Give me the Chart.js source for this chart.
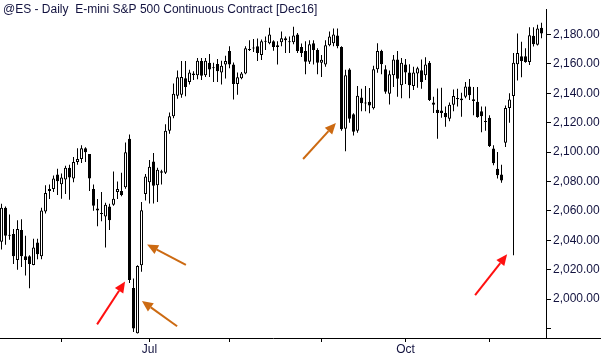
<!DOCTYPE html>
<html>
<head>
<meta charset="utf-8">
<script src="https://cdn.jsdelivr.net/npm/chart.js@4.4.0/dist/chart.umd.min.js"></script>
<style>
  html, body { margin: 0; padding: 0; background: #fff; }
  #wrap { width: 601px; height: 355px; }
</style>
</head>
<body>
<div id="wrap"><canvas id="chart" width="601" height="355"></canvas></div>
<script>
// trading days shown on the chart
const mayDays = [10, 11, 12, 13, 16, 17, 18, 19, 20, 23, 24, 25, 26, 27, 31];
const junDays = [1, 2, 3, 6, 7, 8, 9, 10, 13, 14, 15, 16, 17, 20, 21, 22, 23, 24, 27, 28, 29, 30];
const julDays = [1, 5, 6, 7, 8, 11, 12, 13, 14, 15, 18, 19, 20, 21, 22, 25, 26, 27, 28, 29];
const augDays = [1, 2, 3, 4, 5, 8, 9, 10, 11, 12, 15, 16, 17, 18, 19, 22, 23, 24, 25, 26, 29, 30, 31];
const sepDays = [1, 2, 6, 7, 8, 9, 12, 13, 14, 15, 16, 19, 20, 21, 22, 23, 26, 27, 28, 29, 30];
const octDays = [3, 4, 5, 6, 7, 10, 11, 12, 13, 14, 17, 18, 19, 20, 21, 24, 25, 26, 27, 28, 31];
const novDays = [1, 2, 3, 4, 7, 8, 9, 10, 11, 14, 15, 16, 17, 18];

// tick marks on the time axis
const tickDates = ['2016-06-01', '2016-07-01', '2016-08-01', '2016-09-01', '2016-10-03', '2016-11-01'];
const tickLabels = ['', 'Jul', '', '', 'Oct', ''];

// OHLC values
const opens = [
  2039.0, 2062.2, 2043.7, 2044.3, 2026.5, 2047.0, 2029.1, 2029.1, 2023.2, 2038.4,
  2029.1, 2059.6, 2074.8, 2074.8, 2084.7, 2078.1, 2081.4, 2089.3, 2082.1, 2093.3,
  2095.3, 2102.6, 2098.6, 2074.8, 2061.6, 2058.6, 2056.2, 2062.9, 2064.2, 2072.8,
  2073.5, 2076.1, 2109.0, 2007.5, 1976.8, 2023.0, 2071.5, 2079.4, 2093.5, 2077.4,
  2087.0, 2086.0, 2114.5, 2124.4, 2138.3, 2139.0, 2150.2, 2147.6, 2153.5, 2152.2,
  2162.0, 2152.2, 2160.8, 2157.5, 2160.0, 2154.2, 2159.5, 2168.8, 2159.5, 2146.3,
  2150.2, 2153.5, 2169.4, 2171.0, 2172.0, 2166.0, 2175.0, 2174.0, 2175.4, 2171.4,
  2174.7, 2176.0, 2175.4, 2174.7, 2180.0, 2171.4, 2168.7, 2161.5, 2174.0, 2169.4,
  2160.8, 2159.5, 2172.7, 2174.0, 2179.3, 2171.4, 2115.8, 2156.2, 2125.7, 2114.5,
  2137.2, 2133.4, 2134.3, 2129.8, 2156.4, 2168.7, 2156.4, 2139.6, 2152.2, 2163.0,
  2145.4, 2159.5, 2154.2, 2144.9, 2153.5, 2155.7, 2152.2, 2160.8, 2133.7, 2128.8,
  2128.2, 2126.6, 2122.6, 2132.2, 2136.0, 2136.5, 2137.6, 2144.6, 2136.0, 2134.3,
  2127.7, 2121.1, 2123.3, 2102.4, 2088.7, 2084.7, 2106.3, 2129.9, 2138.1, 2159.7,
  2165.2, 2165.2, 2161.2, 2179.1, 2173.0, 2184.5
];
const highs = [
  2064.9, 2063.0, 2057.6, 2047.6, 2053.6, 2054.3, 2043.0, 2029.8, 2041.0, 2041.0,
  2062.2, 2077.4, 2078.0, 2084.0, 2088.7, 2085.4, 2090.7, 2091.3, 2096.6, 2102.6,
  2104.6, 2103.2, 2098.6, 2078.0, 2068.0, 2072.8, 2065.5, 2064.9, 2086.7, 2080.0,
  2086.0, 2106.5, 2112.0, 2014.0, 2023.0, 2066.0, 2085.0, 2094.6, 2099.3, 2089.3,
  2088.0, 2119.0, 2127.0, 2146.7, 2155.5, 2162.0, 2162.0, 2156.0, 2155.0, 2164.0,
  2164.0, 2164.0, 2166.8, 2160.8, 2163.4, 2162.1, 2165.5, 2172.0, 2161.0, 2154.2,
  2154.5, 2172.0, 2176.0, 2177.0, 2177.3, 2176.6, 2178.7, 2184.6, 2176.0, 2175.4,
  2182.0, 2178.7, 2178.7, 2185.3, 2181.0, 2173.8, 2175.4, 2176.0, 2176.0, 2170.7,
  2166.0, 2176.0, 2182.0, 2184.0, 2184.0, 2172.0, 2156.0, 2157.0, 2126.4, 2145.0,
  2143.0, 2145.0, 2143.6, 2158.8, 2174.0, 2169.6, 2159.0, 2155.5, 2166.0, 2168.7,
  2164.0, 2163.4, 2159.7, 2158.0, 2158.0, 2163.0, 2164.5, 2162.0, 2137.6, 2143.2,
  2143.8, 2131.0, 2133.8, 2142.5, 2143.0, 2140.3, 2147.6, 2149.7, 2144.3, 2144.3,
  2131.0, 2131.0, 2125.0, 2104.6, 2100.0, 2091.3, 2131.7, 2140.0, 2167.4, 2180.7,
  2175.1, 2170.7, 2185.0, 2185.0, 2186.6, 2188.0
];
const lows = [
  2033.7, 2037.0, 2040.4, 2023.8, 2019.9, 2021.8, 2016.0, 2007.3, 2023.0, 2027.0,
  2027.0, 2058.2, 2068.0, 2072.8, 2070.8, 2068.2, 2071.5, 2067.5, 2079.4, 2091.3,
  2092.6, 2093.3, 2073.5, 2060.0, 2049.6, 2053.0, 2035.0, 2047.0, 2063.5, 2068.0,
  2070.0, 2075.0, 2011.0, 1977.5, 1976.5, 2018.5, 2067.0, 2065.0, 2065.0, 2066.0,
  2078.0, 2085.0, 2112.5, 2123.0, 2136.3, 2137.0, 2138.0, 2146.0, 2149.0, 2149.6,
  2149.0, 2151.0, 2151.0, 2147.6, 2147.6, 2146.0, 2150.0, 2157.0, 2135.7, 2139.0,
  2149.6, 2153.0, 2168.7, 2168.0, 2162.0, 2162.7, 2169.4, 2173.4, 2169.0, 2159.5,
  2172.0, 2167.4, 2167.4, 2173.4, 2167.4, 2164.7, 2152.9, 2160.0, 2159.5, 2152.9,
  2151.0, 2158.0, 2172.0, 2172.0, 2170.7, 2114.5, 2100.5, 2120.0, 2111.2, 2113.2,
  2127.7, 2127.7, 2126.4, 2129.0, 2154.0, 2153.0, 2139.6, 2132.4, 2144.3, 2137.6,
  2136.6, 2146.3, 2136.6, 2142.3, 2143.8, 2143.0, 2149.0, 2134.8, 2126.6, 2109.0,
  2123.3, 2117.3, 2121.0, 2127.7, 2131.0, 2124.0, 2136.6, 2135.5, 2125.0, 2123.3,
  2113.4, 2114.5, 2103.4, 2091.0, 2082.0, 2079.2, 2103.4, 2120.0, 2029.8, 2148.7,
  2150.9, 2160.8, 2159.2, 2171.9, 2172.5, 2177.4
];
const closes = [
  2062.2, 2043.0, 2043.0, 2029.1, 2047.6, 2029.1, 2026.5, 2023.8, 2035.1, 2030.4,
  2060.2, 2072.1, 2073.5, 2082.1, 2080.1, 2082.7, 2089.3, 2082.7, 2093.3, 2095.3,
  2102.6, 2099.9, 2082.1, 2063.5, 2060.2, 2057.9, 2064.2, 2053.6, 2068.2, 2074.8,
  2070.8, 2099.9, 2013.0, 1980.0, 2022.5, 2060.4, 2083.4, 2090.0, 2077.0, 2088.0,
  2086.0, 2114.5, 2124.4, 2139.6, 2150.9, 2151.0, 2144.3, 2154.2, 2152.5, 2162.1,
  2152.0, 2162.1, 2156.2, 2157.0, 2154.9, 2158.8, 2162.0, 2159.5, 2146.3, 2150.9,
  2153.5, 2170.7, 2169.8, 2170.5, 2167.4, 2175.4, 2175.4, 2180.0, 2171.4, 2172.7,
  2177.4, 2177.4, 2174.7, 2179.3, 2168.7, 2167.4, 2161.5, 2173.4, 2169.4, 2160.8,
  2162.8, 2172.7, 2178.7, 2180.0, 2172.0, 2115.6, 2152.2, 2122.6, 2113.8, 2138.3,
  2133.2, 2133.0, 2131.7, 2156.4, 2168.7, 2159.7, 2141.0, 2153.0, 2163.0, 2149.8,
  2160.8, 2154.2, 2145.4, 2154.2, 2157.0, 2147.6, 2159.5, 2135.5, 2132.2, 2126.6,
  2126.6, 2123.7, 2132.2, 2138.1, 2136.8, 2135.2, 2144.6, 2138.7, 2134.8, 2123.9,
  2124.4, 2120.5, 2104.1, 2092.4, 2084.2, 2080.7, 2129.9, 2135.7, 2160.8, 2167.4,
  2161.9, 2161.2, 2179.5, 2173.4, 2184.0, 2180.7
];

// arrows drawn on the chart: [day index, price] of tail and head
const arrows = [
  { from: [23.9, 1982.8], to: [30.9, 2011.9], color: '#ff1010' },
  { from: [46.1, 2023.2], to: [36.4, 2037.1], color: '#cc6a12' },
  { from: [43.9, 1981.5], to: [35.1, 1998.7], color: '#cc6a12' },
  { from: [75.4, 2095.3], to: [83.6, 2119.8], color: '#cc6a12' },
  { from: [118.4, 2002.6], to: [126.4, 2030.4], color: '#ff1010' }
];

const title = '@ES - Daily  E-mini S&P 500 Continuous Contract [Dec16]';
const textColor = '#12123f';

function pad(n) { return (n < 10 ? '0' : '') + n; }
const categories = [];
[[5, mayDays], [6, junDays], [7, julDays], [8, augDays], [9, sepDays], [10, octDays], [11, novDays]].forEach(function (m) {
  m[1].forEach(function (d) { categories.push('2016-' + pad(m[0]) + '-' + pad(d)); });
});
const tickIdx = tickDates.map(function (d) { return categories.indexOf(d); });

const bodies = opens.map(function (o, k) { return { x: k, y: [o, closes[k]] }; });
const wicks = lows.map(function (l, k) { return { x: k, y: [l, highs[k]] }; });
const bodyFill = opens.map(function (o, k) { return closes[k] >= o ? '#ffffff' : '#000000'; });

// title, arrows and the axis line below the price scale
const extras = {
  id: 'extras',
  afterDraw: function (chart) {
    const ctx = chart.ctx;
    const xs = chart.scales.x, ys = chart.scales.y;
    const area = chart.chartArea;
    ctx.save();
    ctx.strokeStyle = '#000';
    ctx.lineWidth = 1;
    ctx.beginPath();
    ctx.moveTo(area.right, Math.round(area.bottom) + 0.5);
    ctx.lineTo(chart.width, Math.round(area.bottom) + 0.5);
    ctx.stroke();

    ctx.fillStyle = textColor;
    ctx.font = '12px "Liberation Sans", Arial, sans-serif';
    ctx.textBaseline = 'alphabetic';
    ctx.fillText(title, 3, 13);

    arrows.forEach(function (a) {
      const x1 = xs.getPixelForValue(a.from[0]), y1 = ys.getPixelForValue(a.from[1]);
      const x2 = xs.getPixelForValue(a.to[0]), y2 = ys.getPixelForValue(a.to[1]);
      const ang = Math.atan2(y2 - y1, x2 - x1);
      const hl = 11, hw = 5;
      const bx = x2 - hl * Math.cos(ang), by = y2 - hl * Math.sin(ang);
      ctx.strokeStyle = a.color;
      ctx.fillStyle = a.color;
      ctx.lineWidth = 2;
      ctx.beginPath();
      ctx.moveTo(x1, y1);
      ctx.lineTo(bx, by);
      ctx.stroke();
      ctx.beginPath();
      ctx.moveTo(x2, y2);
      ctx.lineTo(bx + hw * Math.sin(ang), by - hw * Math.cos(ang));
      ctx.lineTo(bx - hw * Math.sin(ang), by + hw * Math.cos(ang));
      ctx.closePath();
      ctx.fill();
    });
    ctx.restore();
  }
};

new Chart(document.getElementById('chart'), {
  type: 'bar',
  data: {
    datasets: [{
      label: 'body',
      data: bodies,
      grouped: false,
      order: 0,
      barThickness: 3,
      minBarLength: 1,
      backgroundColor: bodyFill,
      borderColor: '#000',
      borderWidth: 1,
      borderSkipped: false,
      inflateAmount: 0
    }, {
      label: 'wick',
      data: wicks,
      grouped: false,
      order: 1,
      barThickness: 1,
      backgroundColor: '#000',
      borderWidth: 0,
      inflateAmount: 0
    }]
  },
  options: {
    responsive: false,
    animation: false,
    layout: { padding: 0 },
    plugins: { legend: { display: false }, tooltip: { enabled: false } },
    scales: {
      x: {
        type: 'linear',
        offset: false,
        min: -0.375,
        max: 136.125,
        afterFit: function (s) { s.height = 17; },
        afterBuildTicks: function (s) {
          s.ticks = tickIdx.map(function (v) { return { value: v }; });
        },
        border: { color: '#000' },
        grid: { drawOnChartArea: false, offset: false, tickLength: 4, color: '#000' },
        ticks: {
          autoSkip: false,
          maxRotation: 0,
          padding: 0,
          color: textColor,
          font: { family: '"Liberation Sans", Arial, sans-serif', size: 12 },
          callback: function (v) {
            const k = tickIdx.indexOf(v);
            return k >= 0 ? tickLabels[k] : '';
          }
        }
      },
      y: {
        position: 'right',
        min: 1973.5,
        max: 2197.2,
        afterFit: function (s) { s.width = 55; },
        border: { color: '#000' },
        grid: { drawOnChartArea: false, tickLength: 5, color: '#000' },
        ticks: {
          stepSize: 20,
          includeBounds: false,
          padding: 2,
          color: textColor,
          font: { family: '"Liberation Sans", Arial, sans-serif', size: 12 },
          callback: function (v) {
            return v < 2000 ? '' : v.toLocaleString('en-US', { minimumFractionDigits: 2, maximumFractionDigits: 2 });
          }
        }
      }
    }
  },
  plugins: [extras]
});
</script>
</body>
</html>
